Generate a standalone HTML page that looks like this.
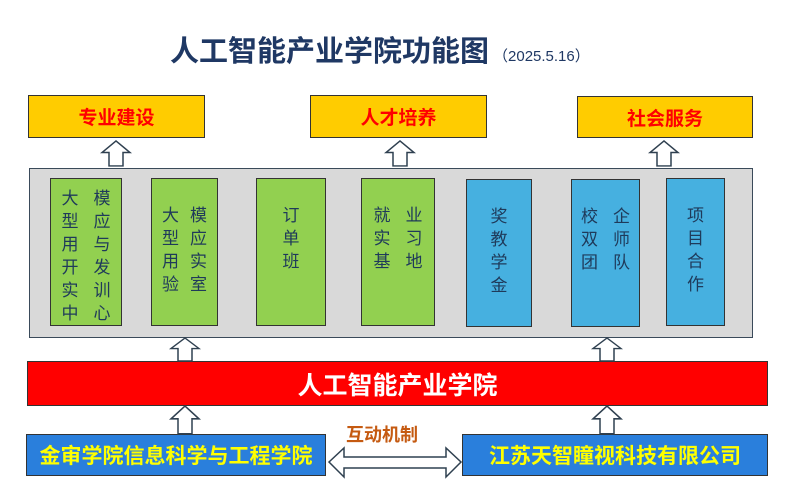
<!DOCTYPE html>
<html><head><meta charset="utf-8"><style>
body{margin:0;width:798px;height:501px;background:#fff;position:relative;overflow:hidden;font-family:"Liberation Sans","Noto Sans CJK SC",sans-serif}
.a{position:absolute;box-sizing:border-box}
.y{background:#ffcc00;border:1.5px solid #333;color:#ff0000;font-weight:bold;font-size:19px;display:flex;align-items:center;justify-content:center}
.c{border:1.5px solid #333;color:#1f3a5a;font-size:17px;line-height:23px;display:flex;justify-content:center;gap:14px}
.c div{width:18px;text-align:center}
.g{background:#92d050}.b{background:#46b0e0}
.bl{background:#2a7fdc;border:1.5px solid #333;color:#ffff00;font-weight:bold;font-size:21px;display:flex;align-items:center;justify-content:center}
svg{position:absolute;left:0;top:0}
</style></head><body>
<div class="a" style="left:170px;top:28px;width:500px;font-size:29px;font-weight:bold;color:#1f3864;white-space:nowrap">人工智能产业学院功能图<span style="font-size:15px;font-weight:normal;margin-left:4px">（2025.5.16）</span></div>

<div class="a y" style="left:28px;top:95px;width:177px;height:43px">专业建设</div>
<div class="a y" style="left:310px;top:95px;width:177px;height:43px">人才培养</div>
<div class="a y" style="left:577px;top:96px;width:176px;height:42px">社会服务</div>

<div class="a" style="left:29px;top:168px;width:724px;height:170px;background:#d9d9d9;border:1.5px solid #3a4a5a"></div>

<div class="a c g" style="left:50px;top:178px;width:72px;height:148px;padding-top:8px"><div>大型用开实中</div><div>模应与发训心</div></div>
<div class="a c g" style="left:151px;top:178px;width:67px;height:148px;padding-top:25px;gap:10px"><div>大型用验</div><div>模应实室</div></div>
<div class="a c g" style="left:256px;top:178px;width:70px;height:148px;padding-top:25px"><div>订单班</div></div>
<div class="a c g" style="left:361px;top:178px;width:74px;height:148px;padding-top:25px"><div>就实基</div><div>业习地</div></div>
<div class="a c b" style="left:466px;top:179px;width:66px;height:148px;padding-top:25px"><div>奖教学金</div></div>
<div class="a c b" style="left:571px;top:179px;width:69px;height:148px;padding-top:25px"><div>校双团</div><div>企师队</div></div>
<div class="a c b" style="left:666px;top:178px;width:59px;height:148px;padding-top:25px"><div>项目合作</div></div>

<div class="a" style="left:27px;top:361px;width:741px;height:45px;background:#ff0000;border:1.5px solid #333;color:#fff;font-size:25px;font-weight:bold;display:flex;align-items:center;justify-content:center">人工智能产业学院</div>

<div class="a bl" style="left:26px;top:434px;width:300px;height:42px">金审学院信息科学与工程学院</div>
<div class="a bl" style="left:462px;top:434px;width:306px;height:42px">江苏天智瞳视科技有限公司</div>
<div class="a" style="left:346px;top:421px;font-size:18px;font-weight:bold;color:#c55a11">互动机制</div>

<svg width="798" height="501">
<defs><g id="up"><path d="M-14,12 L0,0 L14,12 L7,12 L7,26 L-7,26 L-7,12 Z" fill="#fff" stroke="#2f4050" stroke-width="1.5"/></g></defs>
<use href="#up" transform="translate(116,141) scale(1,0.96)"/>
<use href="#up" transform="translate(400,141) scale(1,0.96)"/>
<use href="#up" transform="translate(664,141) scale(1,0.96)"/>
<use href="#up" transform="translate(185,338) scale(1,0.88)"/>
<use href="#up" transform="translate(607,338) scale(1,0.88)"/>
<use href="#up" transform="translate(185,406) scale(1,1.07)"/>
<use href="#up" transform="translate(607,406) scale(1,1.07)"/>
<path d="M329,462 L344,448 L344,457 L446,457 L446,448 L461,462 L446,477 L446,468 L344,468 L344,477 Z" fill="#fff" stroke="#2f4050" stroke-width="1.5"/>
</svg>
</body></html>
